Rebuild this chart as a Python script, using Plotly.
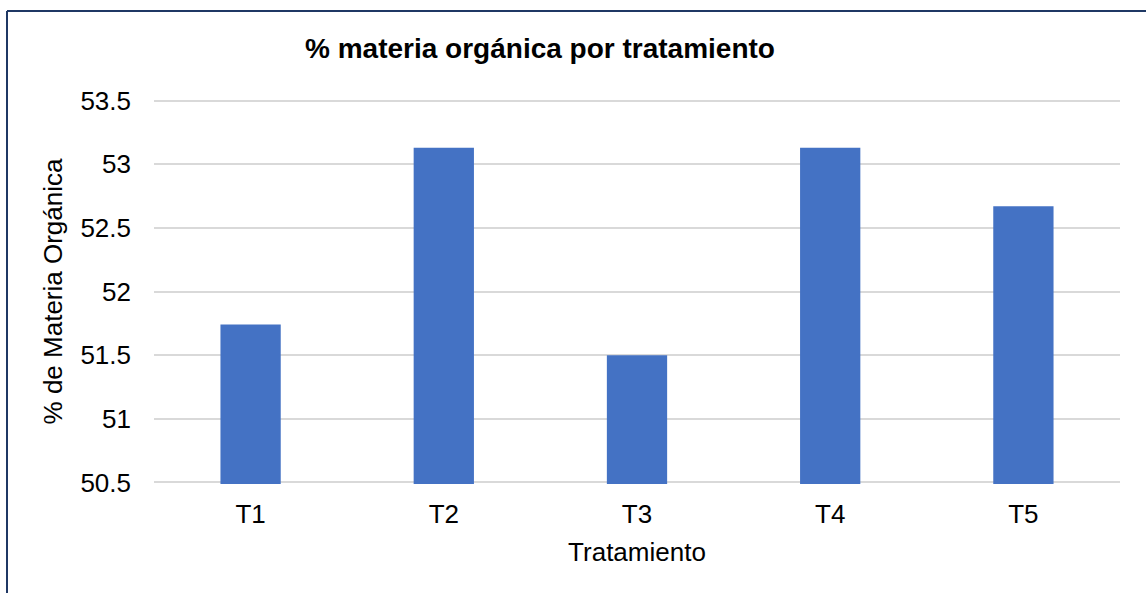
import plotly.graph_objects as go

# data
tratamientos = ["T1", "T2", "T3", "T4", "T5"]
materia_organica = [51.74, 53.13, 51.5, 53.13, 52.67]
y_ticks = [50.5, 51, 51.5, 52, 52.5, 53, 53.5]
y_tick_text = ["50.5", "51", "51.5", "52", "52.5", "53", "53.5"]

W, H = 1146, 593
ML, MR, MT, MB = 154, 26, 99, 109
plot_w = W - ML - MR
plot_h = H - MT - MB

def px_x(px):
    return (px - ML) / plot_w

def px_y(py):
    return (H - MB - py) / plot_h

FONT = "Liberation Sans, Arial, sans-serif"
BORDER = "#1F3864"

fig = go.Figure(go.Bar(
    x=tratamientos, y=materia_organica,
    width=0.312,
    marker=dict(color="#4472C4", line=dict(width=0)),
))

fig.update_layout(
    width=W, height=H,
    margin=dict(l=ML, r=MR, t=MT, b=MB),
    paper_bgcolor="white", plot_bgcolor="white",
    font=dict(family=FONT, size=26, color="#000000"),
    showlegend=False,
    title=dict(text="<b>% materia orgánica por tratamiento</b>",
               x=540 / W, xref="container", xanchor="center",
               y=1 - 48 / H, yref="container", yanchor="middle",
               font=dict(family=FONT, size=28, color="#000000")),
    xaxis=dict(
        showgrid=False, showline=False, zeroline=False,
        ticks="", ticklabelstandoff=12,
        tickfont=dict(size=26),
        title=dict(text="Tratamiento", standoff=14, font=dict(size=26)),
    ),
    yaxis=dict(
        # a little padding so plotly keeps the grid lines at both ends
        range=[50.488, 53.512],
        tickvals=y_ticks, ticktext=y_tick_text,
        showgrid=True, gridcolor="#D9D9D9", gridwidth=1.5,
        showline=False, zeroline=False,
        ticks="", ticklabelstandoff=22,
        tickfont=dict(size=26),
        title=dict(text="% de Materia Orgánica", standoff=10, font=dict(size=26)),
    ),
    shapes=[
        dict(type="line", xref="paper", yref="paper",
             x0=px_x(7), x1=px_x(7), y0=px_y(11), y1=px_y(H + 5),
             line=dict(color=BORDER, width=2)),
        dict(type="line", xref="paper", yref="paper",
             x0=px_x(7), x1=px_x(W + 5), y0=px_y(11), y1=px_y(11),
             line=dict(color=BORDER, width=2)),
    ],
)

fig.write_html("out.html", config={"displayModeBar": False},
               post_script="document.body.style.margin='0';")
